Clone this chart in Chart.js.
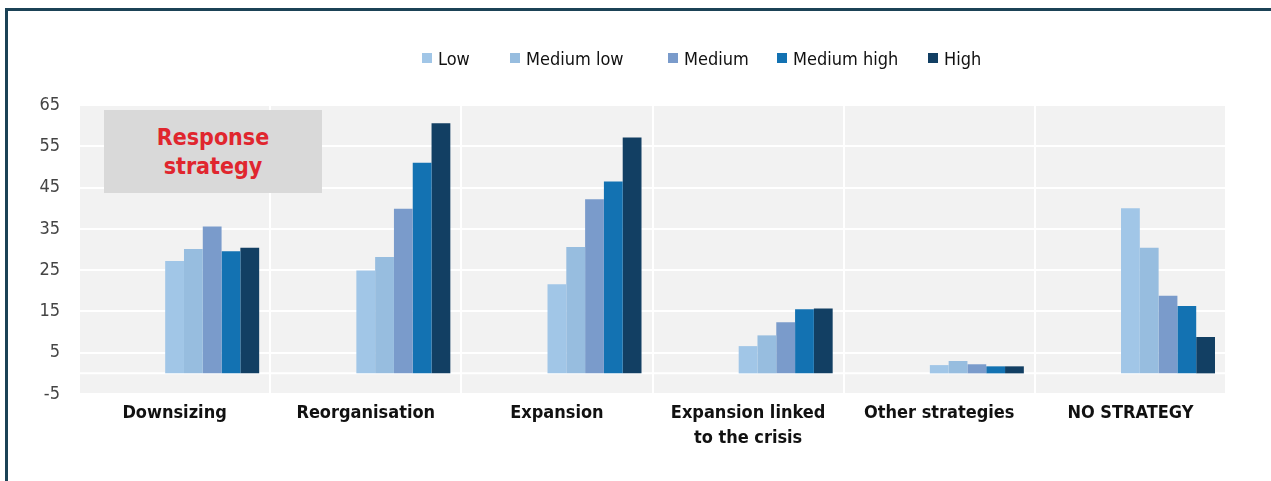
<!DOCTYPE html>
<html lang="en">
<head>
<meta charset="UTF-8">
<title>Response strategy</title>
<script src="https://cdn.jsdelivr.net/npm/chart.js"></script>
<style>
  html, body { margin: 0; padding: 0; background: #fff; overflow: hidden; }
  body { width: 1271px; height: 481px; position: relative; font-family: 'Liberation Sans Narrow', 'DejaVu Sans Condensed', 'Open Sans', sans-serif; }
  #frame { position: absolute; left: 5px; top: 8px; width: 1300px; height: 500px; border-left: 3px solid #1b4256; border-top: 3px solid #1b4256; }
  #chart { position: absolute; left: 0; top: 0; }
  #legend { position: absolute; left: 0; top: 48px; width: 1271px; height: 20px; font-size: 18px; color: #111; }
  #legend .item { position: absolute; top: 0; height: 20px; display: flex; align-items: center; white-space: nowrap; }
  #legend .box { width: 10px; height: 10px; margin-right: 6px; }
  #note { position: absolute; left: 104px; top: 110px; width: 218px; height: 83px; background: #d9d9d9; color: #e0262e; font-weight: bold; font-size: 23px; line-height: 29px; text-align: center; padding-top: 13px; box-sizing: border-box; }
</style>
</head>
<body>
  <div id="frame"></div>
  <canvas id="chart" width="1271" height="481"></canvas>
  <div id="legend"></div>
  <div id="note">Response<br>strategy</div>

<script>
  const categories = ['Downsizing', 'Reorganisation', 'Expansion', ['Expansion linked', 'to the crisis'], 'Other strategies', 'NO STRATEGY'];
  const seriesNames = ['Low', 'Medium low', 'Medium', 'Medium high', 'High'];
  const seriesColors = ['#a1c6e7', '#97bddf', '#7a9bcb', '#1372b2', '#123f63'];
  const low        = [27.2, 24.9, 21.6, 6.6, 2.0, 40.0];
  const mediumLow  = [30.1, 28.2, 30.6, 9.2, 3.0, 30.4];
  const medium     = [35.6, 39.9, 42.2, 12.4, 2.2, 18.8];
  const mediumHigh = [29.6, 51.0, 46.5, 15.5, 1.7, 16.3];
  const high       = [30.4, 60.6, 57.1, 15.7, 1.7, 8.8];
  const yTicks = [-5, 5, 15, 25, 35, 45, 55, 65];

  const FONT = "'Liberation Sans Narrow', 'DejaVu Sans Condensed', 'Open Sans', sans-serif";
  const seriesData = [low, mediumLow, medium, mediumHigh, high];
  const legendX = [422, 510, 668, 777, 928];

  // empty slots keep the real bars in the right part of each group, like the original
  const spacers = [0, 1, 2, 3].map(() => ({ label: '', data: categories.map(() => null), backgroundColor: 'transparent' }));
  const datasets = spacers.concat(seriesNames.map((name, i) => ({
    label: name,
    data: seriesData[i],
    backgroundColor: seriesColors[i]
  })));

  const plotBackground = {
    id: 'plotBackground',
    beforeDraw(chart) {
      const { ctx, chartArea: a } = chart;
      ctx.save();
      ctx.fillStyle = '#f2f2f2';
      ctx.fillRect(a.left, a.top, a.right - a.left, a.bottom - a.top);
      ctx.restore();
    },
    beforeDatasetsDraw(chart) {
      const { ctx, chartArea: a, scales } = chart;
      const y0 = scales.y.getPixelForValue(0);
      ctx.save();
      ctx.strokeStyle = '#ffffff';
      ctx.lineWidth = 2;
      ctx.beginPath();
      ctx.moveTo(a.left, y0);
      ctx.lineTo(a.right, y0);
      ctx.stroke();
      ctx.restore();
    }
  };

  const chart = new Chart(document.getElementById('chart'), {
    type: 'bar',
    data: { labels: categories, datasets: datasets },
    options: {
      responsive: false,
      animation: false,
      layout: { padding: { top: 105, right: 45, bottom: 0, left: 0 } },
      datasets: { bar: { categoryPercentage: 0.885, barPercentage: 1 } },
      scales: {
        x: {
          grid: { offset: true, color: '#ffffff', lineWidth: 2, drawTicks: false },
          border: { display: false },
          ticks: { color: '#111', padding: 7, font: { family: FONT, size: 18, weight: 'bold', lineHeight: 1.4 }, maxRotation: 0, autoSkip: false },
          afterFit(scale) { scale.height = 87; }
        },
        y: {
          min: -5,
          max: 65,
          afterBuildTicks(scale) { scale.ticks = yTicks.map(v => ({ value: v })); },
          grid: { color: '#ffffff', lineWidth: 2, drawTicks: false },
          border: { display: false },
          ticks: { color: '#444', padding: 19, font: { family: FONT, size: 18 } },
          afterFit(scale) { scale.width = 79; }
        }
      },
      plugins: {
        legend: { display: false },
        tooltip: { enabled: false }
      }
    },
    plugins: [plotBackground]
  });

  // legend in html so it can sit where the original had it
  const legendDiv = document.getElementById('legend');
  chart.data.datasets.filter(ds => ds.label).forEach((ds, i) => {
    const item = document.createElement('div');
    item.className = 'item';
    item.style.left = legendX[i] + 'px';
    const box = document.createElement('span');
    box.className = 'box';
    box.style.background = ds.backgroundColor;
    const txt = document.createElement('span');
    txt.textContent = ds.label;
    item.append(box, txt);
    legendDiv.appendChild(item);
  });
</script>
</body>
</html>
